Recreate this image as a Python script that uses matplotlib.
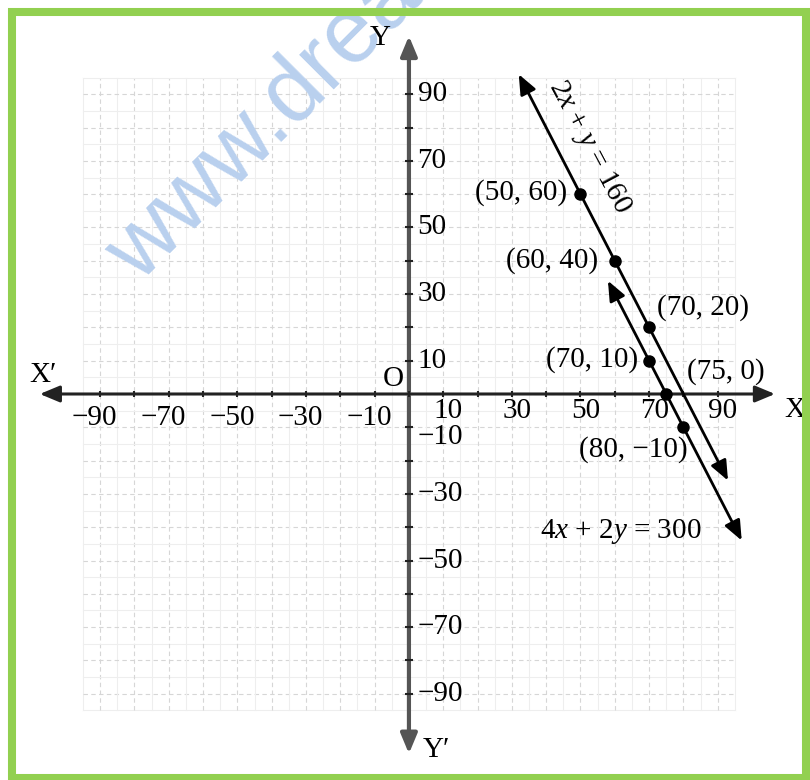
import matplotlib
matplotlib.use("Agg")
import matplotlib.pyplot as plt
from matplotlib.patches import Rectangle

plt.rcParams["font.family"] = ["Liberation Serif", "DejaVu Serif"]
plt.rcParams["mathtext.fontset"] = "custom"
plt.rcParams["mathtext.rm"] = "Liberation Serif"
plt.rcParams["mathtext.it"] = "Liberation Serif:italic"

# ---- data ----
# lines a*x + b*y = c, drawn between x_from and x_to
line_a = [2, 4]
line_b = [1, 2]
line_c = [160, 300]
line_x_from = [32, 58]
line_x_to = [93, 97]
line_labels = ["2$x$ + $y$ = 160", "4$x$ + 2$y$ = 300"]

pt_x = [50, 60, 70, 70, 75, 80]
pt_y = [60, 40, 20, 10, 0, -10]
pt_labels = ["(50, 60)", "(60, 40)", "(70, 20)", "(70, 10)", "(75, 0)", "(80, \u221210)"]

tick_vals = list(range(-90, 100, 10))
x_label_vals = [-90, -70, -50, -30, -10, 10, 30, 50, 70, 90]
y_label_vals = [90, 70, 50, 30, 10, -10, -30, -50, -70, -90]

FS = 21
fig = plt.figure(figsize=(8.1, 7.8), dpi=100)
ax = fig.add_axes([0, 0, 1, 1])
ax.set_xlim(-119.2, 116.9)
ax.set_ylim(-115.9, 118.3)
ax.axis("off")

# faint graph-paper grid
for v in range(-95, 96, 5):
    major = v % 10 == 0
    col = "#d6d6d6" if major else "#eeeeee"
    ls = (0, (4, 3)) if major else "-"
    ax.plot([v, v], [-95, 95], color=col, lw=0.8, ls=ls, zorder=1)
    ax.plot([-95, 95], [v, v], color=col, lw=0.8, ls=ls, zorder=1)

# watermark
ax.text(-78.5, 33, "www.drea", fontsize=66, family="Liberation Sans",
        color="#b9d0ee", rotation=45, rotation_mode="anchor",
        ha="left", va="baseline", zorder=2)

arrow = dict(arrowstyle="<|-|>,head_length=0.6,head_width=0.25",
             mutation_scale=20, shrinkA=0, shrinkB=0)

# axes with arrows
ax.annotate("", xy=(-107.6, 0), xytext=(106.7, 0),
            arrowprops=dict(arrow, color="#222222", lw=2.2), zorder=3)
ax.annotate("", xy=(0, 107.5), xytext=(0, -108),
            arrowprops=dict(arrow, color="#555555", lw=3), zorder=3)
ax.plot(tick_vals, [0] * len(tick_vals), ls="none", marker="|", ms=5,
        mew=1.5, color="#222222", zorder=4)
ax.plot([0] * len(tick_vals), tick_vals, ls="none", marker="_", ms=6,
        mew=1.5, color="#222222", zorder=4)

for v in x_label_vals:
    if v > 0:
        ax.text(v + 1.5, -5.0, str(v), fontsize=FS, ha="center", va="center", zorder=5)
    else:
        ax.text(v + 5, -7.2, "\u2212" + str(-v), fontsize=FS, ha="right", va="center", zorder=5)
for v in y_label_vals:
    yy = -12.8 if v == -10 else v
    txt = str(v) if v > 0 else "\u2212" + str(-v)
    ax.text(2.5, yy, txt, fontsize=FS, ha="left", va="center", zorder=5)

ax.text(-110.5, 5.7, "X\u2032", fontsize=FS, ha="left", va="center")
ax.text(112.5, -4.8, "X", fontsize=FS, ha="center", va="center")
ax.text(-8.5, 107, "Y", fontsize=FS, ha="center", va="center")
ax.text(4, -107, "Y\u2032", fontsize=FS, ha="left", va="center")
ax.text(-1.5, 4.5, "O", fontsize=FS, ha="right", va="center")

# the two lines
for a, b, c, x0, x1 in zip(line_a, line_b, line_c, line_x_from, line_x_to):
    ax.annotate("", xy=(x0, (c - a * x0) / b), xytext=(x1, (c - a * x1) / b),
                arrowprops=dict(arrow, color="black", lw=2), zorder=6)

ax.plot(pt_x, pt_y, "o", color="black", ms=8, zorder=7)

pt_pos = [(46, 60.5, "right"), (55, 40.2, "right"), (72.3, 26, "left"),
          (66.8, 10.2, "right"), (81, 6.6, "left"), (81.3, -16.8, "right")]
for lab, (tx, ty, ha) in zip(pt_labels, pt_pos):
    ax.text(tx, ty, lab, fontsize=FS, ha=ha, va="center", zorder=8)

ax.text(52.5, 74, line_labels[0], fontsize=FS, rotation=-62,
        rotation_mode="anchor", ha="center", va="center", zorder=8)
ax.text(38.2, -41.4, line_labels[1], fontsize=FS, ha="left", va="center", zorder=8)

# green frame
fig.patches.append(Rectangle((12 / 810, 2 / 780), 794 / 810, 766 / 780,
                             transform=fig.transFigure, fill=False,
                             ec="#92d050", lw=5.8))

fig.savefig("out.png", dpi=100)
